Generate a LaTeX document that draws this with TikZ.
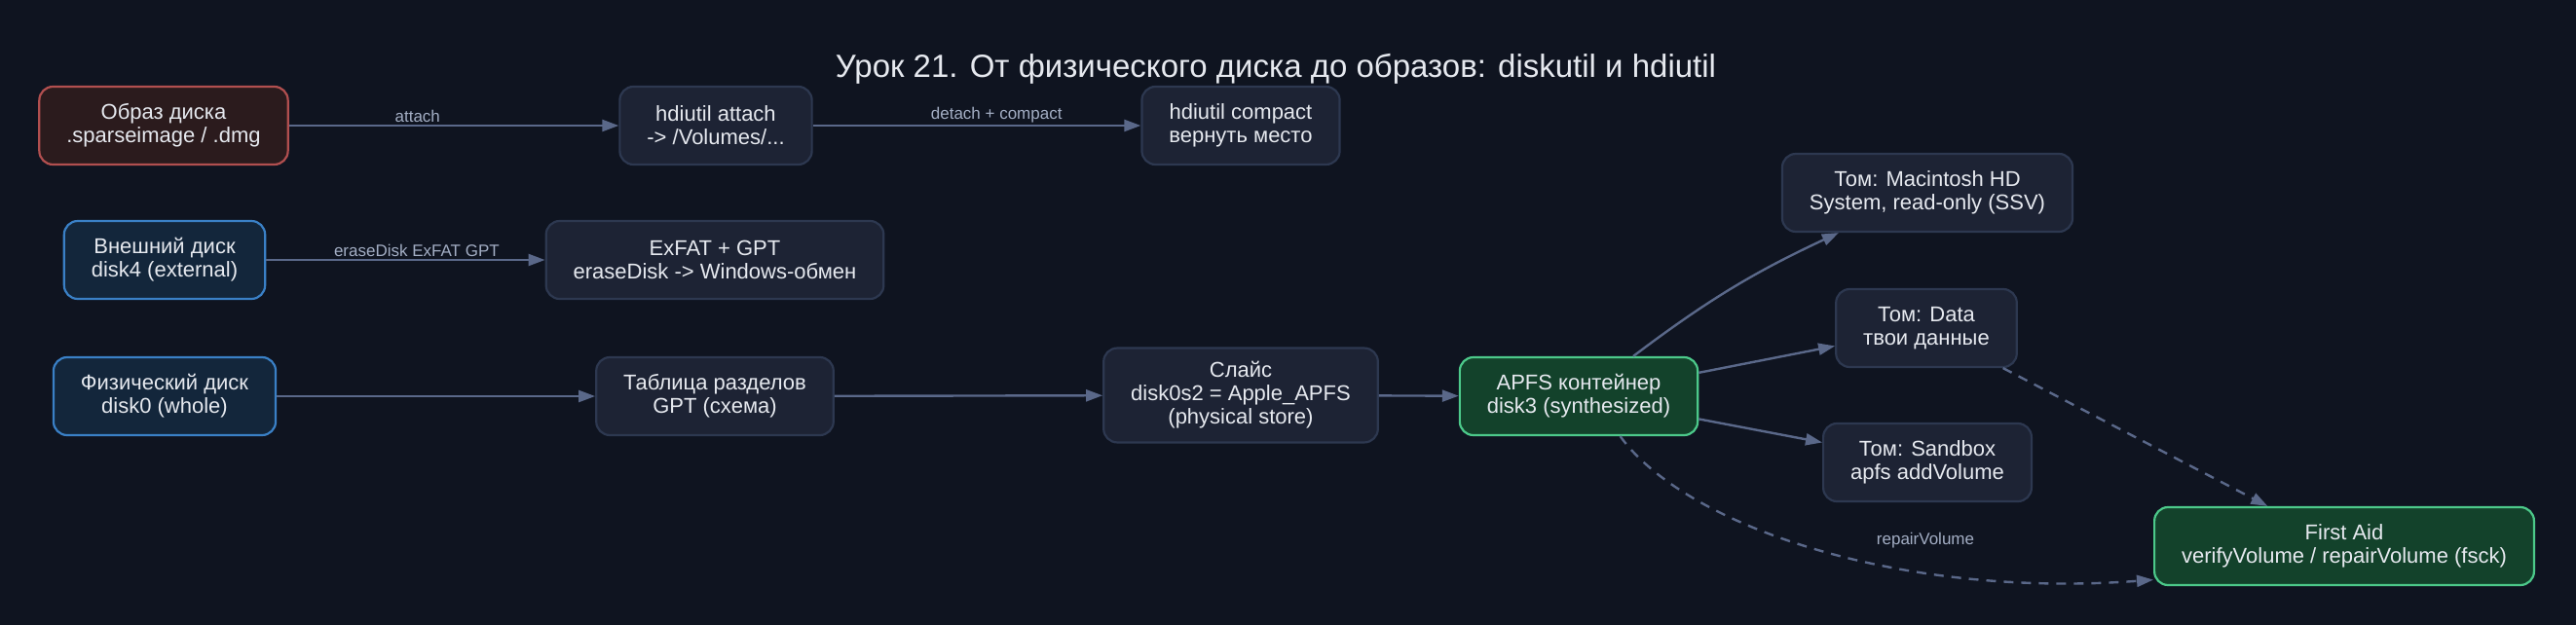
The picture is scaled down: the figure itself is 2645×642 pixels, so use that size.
\documentclass[tikz,border=0pt]{standalone}
\usepackage{fontspec}
\setmainfont{Liberation Sans}
\usetikzlibrary{arrows.meta,positioning,backgrounds}
\definecolor{bgdark}{HTML}{0F1420}
\definecolor{nodefill}{HTML}{1D2334}
\definecolor{nodeline}{HTML}{2D3850}
\definecolor{bluefill}{HTML}{13263B}
\definecolor{blueline}{HTML}{3A80C6}
\definecolor{redfill}{HTML}{2B1B1D}
\definecolor{redline}{HTML}{B14F4F}
\definecolor{greenfill}{HTML}{13422B}
\definecolor{greenline}{HTML}{4CC98A}
\definecolor{edgecol}{HTML}{5A6889}
\definecolor{labelcol}{HTML}{A3AEC4}
\definecolor{textcol}{HTML}{E6E9EF}

\begin{document}
\begin{tikzpicture}[x=0.5pt,y=-0.5pt,% one unit = one pixel of the reference
        box/.style={draw=nodeline,fill=nodefill,rounded corners=7pt,line width=1.1pt,
          text=textcol,align=center,font=\fontsize{11}{12}\selectfont,
          inner xsep=14pt,inner ysep=7pt,minimum height=40pt},
        diskbox/.style={box,draw=blueline,fill=bluefill},
        imagebox/.style={box,draw=redline,fill=redfill},
        checkbox/.style={box,draw=greenline,fill=greenfill},
        link/.style={draw=edgecol,line width=1.2pt,-{Triangle[length=8.5pt,width=6pt]}},
        hint/.style={link,dash pattern=on 5pt off 4pt},% dashed repair links
        linklabel/.style={text=labelcol,font=\fontsize{8.5}{9}\selectfont,inner sep=1pt}]
\fill[bgdark] (0,0) rectangle (2645,642);
\useasboundingbox (0,0) rectangle (2645,642);

\node[text=textcol,font=\fontsize{16.5}{18}\selectfont] (title) at (1310,71) {Урок 21. От физического диска до образов: diskutil и hdiutil};

% top row: disk images
\node[imagebox] (img) at (168,129) {Образ диска\\.sparseimage / .dmg};
\node[box] (attach) at (735,129) {hdiutil attach\\-> /Volumes/...};
\node[box] (compact) at (1274,129) {hdiutil compact\\вернуть место};

% middle row: external disk
\node[diskbox] (ext) at (169,267) {Внешний диск\\disk4 (external)};
\node[box] (exfat) at (734,267) {ExFAT + GPT\\eraseDisk -> Windows-обмен};

% bottom row: physical disk down to the container
\node[diskbox] (phys) at (169,407) {Физический диск\\disk0 (whole)};
\node[box] (gpt) at (734,407) {Таблица разделов\\GPT (схема)};
\node[box] (slice) at (1274,406) {Слайс\\disk0s2 = Apple\_APFS\\(physical store)};
\node[checkbox] (apfs) at (1621,407) {APFS контейнер\\disk3 (synthesized)};

% volumes of the container
\node[box] (sys) at (1979,198) {Том: Macintosh HD\\System, read-only (SSV)};
\node[box] (data) at (1978,337) {Том: Data\\твои данные};
\node[box] (sandbox) at (1979,475) {Том: Sandbox\\apfs addVolume};
\node[checkbox] (aid) at (2407,561) {First Aid\\verifyVolume / repairVolume (fsck)};

\draw[link] (img) -- node[linklabel,above,pos=0.39] {attach} (attach);
\draw[link] (attach) -- node[linklabel,above,pos=0.56] {detach + compact} (compact);
\draw[link] (ext) -- node[linklabel,above,pos=0.54] {eraseDisk ExFAT GPT} (exfat);
\draw[link] (phys) -- (gpt);
\draw[link] (gpt) -- (slice);
\draw[link] (slice) -- (apfs);
\foreach \vol/\bend in {sys/6,data/0,sandbox/0}{ % one arrow per volume
\draw[link] (apfs) to[bend left=\bend] (\vol);
}
\draw[hint] (data) -- (aid);
\draw[hint] (apfs.-44) .. controls (1730,540) and (1950,615) .. (aid.190)
  node[linklabel] at (1977,555) {repairVolume};

\end{tikzpicture}
\end{document}
